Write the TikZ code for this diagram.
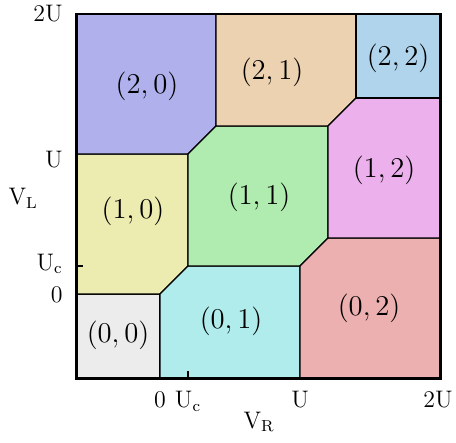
\documentclass[tikz,border=0pt]{standalone}
\usetikzlibrary{positioning}
\definecolor{st00}{RGB}{236,236,236}
\definecolor{st10}{RGB}{236,236,176}
\definecolor{st20}{RGB}{176,176,236}
\definecolor{st01}{RGB}{176,236,236}
\definecolor{st11}{RGB}{176,236,176}
\definecolor{st21}{RGB}{236,210,176}
\definecolor{st02}{RGB}{236,176,176}
\definecolor{st12}{RGB}{236,176,236}
\definecolor{st22}{RGB}{176,212,236}
\tikzset{
  region/.style={draw, semithick, line join=miter},
  frame/.style={draw, line width=1.5pt},
  tickmark/.style={draw, semithick},
  occ/.style={font=\Large},
  ylbl/.style={anchor=base east, font=\large, inner sep=3.33pt},
  xlbl/.style={anchor=base, font=\large, inner sep=3.33pt},
}

\begin{document}
\begin{tikzpicture}[x=2.47cm, y=2.47cm]
  \useasboundingbox (-1.143,-1.064) rectangle (2.114,2.1);
  % charge regions
  \filldraw[region, fill=st00] (-0.6,-0.6) -- (0,-0.6) -- (0,0) -- (-0.6,0) -- cycle;
  \filldraw[region, fill=st10] (-0.6,0) -- (0,0) -- (0.2,0.2) -- (0.2,1) -- (-0.6,1) -- cycle;
  \filldraw[region, fill=st20] (-0.6,1) -- (0.2,1) -- (0.4,1.2) -- (0.4,2) -- (-0.6,2) -- cycle;
  \filldraw[region, fill=st01] (0,-0.6) -- (1,-0.6) -- (1,0.2) -- (0.2,0.2) -- (0,0) -- cycle;
  \filldraw[region, fill=st11] (0.2,0.2) -- (1,0.2) -- (1.2,0.4) -- (1.2,1.2) -- (0.4,1.2) -- (0.2,1) -- cycle;
  \filldraw[region, fill=st21] (0.4,1.2) -- (1.2,1.2) -- (1.4,1.4) -- (1.4,2) -- (0.4,2) -- cycle;
  \filldraw[region, fill=st02] (1,-0.6) -- (2,-0.6) -- (2,0.4) -- (1.2,0.4) -- (1,0.2) -- cycle;
  \filldraw[region, fill=st12] (1.2,0.4) -- (2,0.4) -- (2,1.4) -- (1.4,1.4) -- (1.2,1.2) -- cycle;
  \filldraw[region, fill=st22] (1.4,1.4) -- (2,1.4) -- (2,2) -- (1.4,2) -- cycle;
  \draw[frame] (-0.6,-0.6) rectangle (2,2);
  \draw[tickmark] (-0.6,0.2) -- (-0.55,0.2);
  \draw[tickmark] (0.2,-0.6) -- (0.2,-0.55);

  \node[occ] (n00) at (-0.3,-0.293) {$(0,0)$};
  \node[occ] (n10) at (-0.193,0.593) {$(1,0)$};
  \node[occ] (n20) at (-0.093,1.486) {$(2,0)$};
  \node[occ] (n01) at (0.507,-0.193) {$(0,1)$};
  \node[occ] (n11) at (0.707,0.693) {$(1,1)$};
  \node[occ] (n21) at (0.8,1.586) {$(2,1)$};
  \node[occ] (n02) at (1.493,-0.1) {$(0,2)$};
  \node[occ] (n12) at (1.6,0.886) {$(1,2)$};
  \node[occ] (n22) at (1.7,1.686) {$(2,2)$};

  \node[ylbl] (yTwoU) at (-0.645,1.95) {$2\mathrm{U}$};
  \node[ylbl] (yU)    at (-0.645,0.907) {$\mathrm{U}$};
  \node[ylbl] (yUc)   at (-0.645,0.171) {$\mathrm{U}_\mathrm{c}$};
  \node[ylbl] (yZero) at (-0.645,-0.064) {$0$};
  \node[ylbl] (yVL)   at (-0.823,0.636) {$\mathrm{V}_\mathrm{L}$};
  \node[xlbl] (xZero) at (0,-0.814) {$0$};
  \node[xlbl] (xUc)   at (0.2,-0.814) {$\mathrm{U}_\mathrm{c}$};
  \node[xlbl] (xU)    at (1,-0.814) {$\mathrm{U}$};
  \node[xlbl] (xTwoU) at (1.986,-0.814) {$2\mathrm{U}$};
  \node[xlbl] (xVR)   at (0.707,-0.957) {$\mathrm{V}_\mathrm{R}$};
\end{tikzpicture}
\end{document}
